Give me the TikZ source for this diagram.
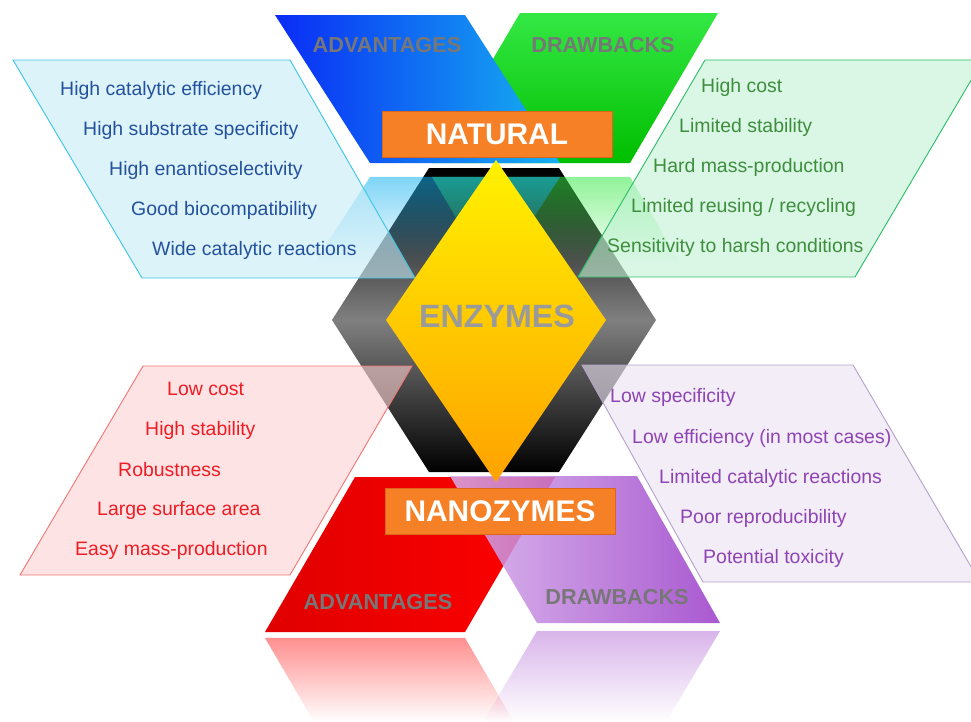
\documentclass[tikz,border=0pt]{standalone}
\usepackage{fontspec}
\setmainfont{Liberation Sans}
\usetikzlibrary{fadings}

\definecolor{advblue}{HTML}{0A2BF5}
\definecolor{advcyan}{HTML}{16B2F0}
\definecolor{drwgreen}{HTML}{00BE00}
\definecolor{drwlight}{HTML}{34E844}
\definecolor{advred}{HTML}{FF0000}
\definecolor{advdark}{HTML}{E00000}
\definecolor{drwpurple}{HTML}{9A3CC8}
\definecolor{drwlilac}{HTML}{D6AEEA}
\definecolor{boxorange}{HTML}{F58025}
\definecolor{boxedge}{HTML}{D9661A}
\definecolor{tagGrey}{HTML}{777777}
\definecolor{enzGrey}{HTML}{9A9A9A}
\definecolor{txtblue}{HTML}{24519C}
\definecolor{txtgreen}{HTML}{3E8E3E}
\definecolor{txtred}{HTML}{EE1C25}
\definecolor{txtpurple}{HTML}{8E44B4}
\definecolor{panblue}{HTML}{C5EBF7}
\definecolor{pangreen}{HTML}{C1F2D4}
\definecolor{panred}{HTML}{FCD0D0}
\definecolor{panpurple}{HTML}{EBE1F3}
\definecolor{edgeblue}{HTML}{3FC6E5}
\definecolor{edgegreen}{HTML}{2FBF6A}
\definecolor{edgered}{HTML}{F07878}
\definecolor{edgepurple}{HTML}{B5A3CB}
\definecolor{diamtop}{HTML}{FFF200}
\definecolor{diambot}{HTML}{FFA200}

\tikzset{
  panel/.style={line width=0.8pt, fill opacity=0.6},
  item/.style={anchor=west, inner sep=0pt, font=\fontsize{16.6}{18}\selectfont},
  tag/.style={inner sep=0pt, text=tagGrey, font=\bfseries\fontsize{18.5}{20}\selectfont},
  title/.style={fill=boxorange, draw=boxedge, line width=0.8pt, text=white,
    minimum width=6.9cm, minimum height=1.38cm, inner sep=0pt,
    font=\bfseries\fontsize{25.5}{28}\selectfont},
  mirror/.style={fill opacity=0.55, path fading=south},
}

\begin{document}
\begin{tikzpicture}[x=0.03cm,y=-0.03cm]
  \useasboundingbox (0,0) rectangle (971,722);
  \clip (0,0) rectangle (971,722);

  % centre hexagon and diamond
  \coordinate (h1) at (429,168);
  \coordinate (h2) at (559,168);
  \coordinate (h3) at (656,320);
  \coordinate (h4) at (559,472);
  \coordinate (h5) at (429,472);
  \coordinate (h6) at (332,320);

  \coordinate (e1) at (496,160);
  \coordinate (e2) at (606,320);
  \coordinate (e3) at (496,482);
  \coordinate (e4) at (386,320);

  \shade [top color=black, bottom color=black, middle color=black!50]
    (h1) -- (h2) -- (h3) -- (h4) -- (h5) -- (h6) -- cycle;

  % reflections
  \fill [drwlight, mirror] (432,177) -- (630,177) -- (681,265) -- (484,265) -- cycle;
  \fill [advcyan, mirror] (370,177) -- (560,177) -- (503,265) -- (313,265) -- cycle;
  \fill [drwpurple!70, mirror] (537,631) -- (720,631) -- (666,722) -- (483,722) -- cycle;
  \fill [advred!80, mirror] (265,638) -- (465,638) -- (514,722) -- (314,722) -- cycle;

  % top V
  \shade [top color=drwlight, bottom color=drwgreen]
    (520,13) -- (718,13) -- (630,163) -- (432,163) -- cycle;
  \shade [left color=advblue, right color=advcyan]
    (275,15) -- (465,15) -- (560,163) -- (370,163) -- cycle;

  % bottom V
  \shade [left color=advdark, right color=advred]
    (355,477) -- (555,477) -- (465,632) -- (265,632) -- cycle;
  \shade [left color=drwlilac, right color=drwpurple, fill opacity=0.85]
    (450,476) -- (637,476) -- (720,623) -- (537,623) -- cycle;

  % side panels
  \filldraw [panel, fill=panblue, draw=edgeblue]
    (13,60) -- (290,60) -- (415,278) -- (142,278) -- cycle;
  \filldraw [panel, fill=pangreen, draw=edgegreen]
    (705,60) -- (983,60) -- (855,277) -- (578,277) -- cycle;
  \filldraw [panel, fill=panred, draw=edgered]
    (143,366) -- (412,366) -- (290,575) -- (20,575) -- cycle;
  \filldraw [panel, fill=panpurple, draw=edgepurple]
    (582,365) -- (853,365) -- (980,582) -- (703,582) -- cycle;

  \shade [top color=diamtop, bottom color=diambot]
    (e1) -- (e2) -- (e3) -- (e4) -- cycle;

  \node [text=enzGrey, font=\bfseries\fontsize{27.5}{30}\selectfont] (enz) at (497,316) {ENZYMES};

  \node [title] (natural) at (497,134) {NATURAL};
  \node [title] (nano) at (500,511) {NANOZYMES};

  \node [tag] (advtop) at (387,45) {ADVANTAGES};
  \node [tag] (drwtop) at (603,45) {DRAWBACKS};
  \node [tag] (advbot) at (378,602) {ADVANTAGES};
  \node [tag] (drwbot) at (617,597) {DRAWBACKS};

  \node [item, text=txtblue] (b1) at (60,90) {High catalytic efficiency};
  \node [item, text=txtblue] (b2) at (83,130) {High substrate specificity};
  \node [item, text=txtblue] (b3) at (109,170) {High enantioselectivity};
  \node [item, text=txtblue] (b4) at (131,210) {Good biocompatibility};
  \node [item, text=txtblue] (b5) at (152,250) {Wide catalytic reactions};

  \node [item, text=txtgreen] (g1) at (701,87) {High cost};
  \node [item, text=txtgreen] (g2) at (679,127) {Limited stability};
  \node [item, text=txtgreen] (g3) at (653,167) {Hard mass-production};
  \node [item, text=txtgreen] (g4) at (631,207) {Limited reusing / recycling};
  \node [item, text=txtgreen] (g5) at (607,247) {Sensitivity to harsh conditions};

  \node [item, text=txtred] (r1) at (167,389) {Low cost};
  \node [item, text=txtred] (r2) at (145,430) {High stability};
  \node [item, text=txtred] (r3) at (118,470) {Robustness};
  \node [item, text=txtred] (r4) at (97,510) {Large surface area};
  \node [item, text=txtred] (r5) at (75,550) {Easy mass-production};

  \node [item, text=txtpurple] (p1) at (610,397) {Low specificity};
  \node [item, text=txtpurple] (p2) at (632,438) {Low efficiency (in most cases)};
  \node [item, text=txtpurple] (p3) at (659,478) {Limited catalytic reactions};
  \node [item, text=txtpurple] (p4) at (680,518) {Poor reproducibility};
  \node [item, text=txtpurple] (p5) at (703,558) {Potential toxicity};
\end{tikzpicture}
\end{document}
